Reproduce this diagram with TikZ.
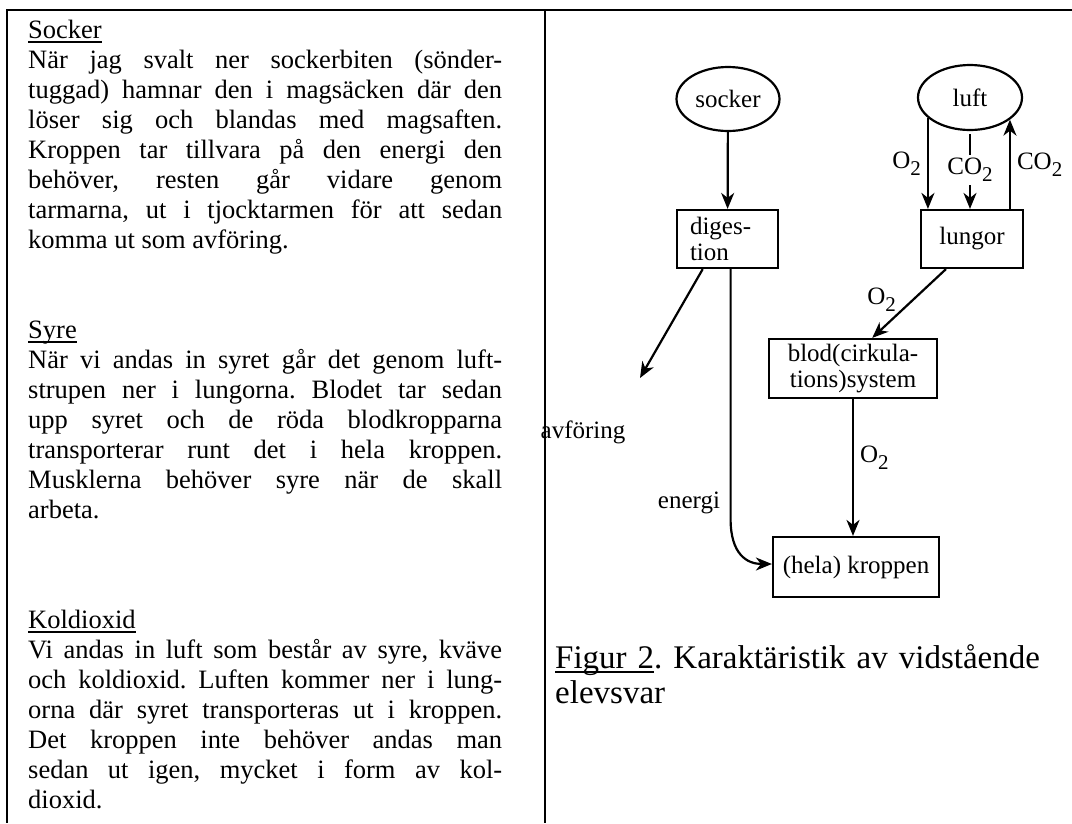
\documentclass[tikz,border=0pt]{standalone}
\usepackage{fontspec}
\setmainfont{Liberation Serif}
\usetikzlibrary{arrows.meta,shapes.geometric,calc}
\setlength{\parindent}{0pt}
\tolerance=10000
\hbadness=10000
\hyphenpenalty=10000
\frenchspacing
% chemical labels
\newcommand\Oxy{O\raisebox{-7pt}{\fontsize{21}{21}\selectfont 2}}
\newcommand\COxy{CO\raisebox{-7pt}{\fontsize{21}{21}\selectfont 2}}
% underline sitting just below the baseline
\newcommand\undl[1]{\leavevmode\setbox0=\hbox{#1}\rlap{\rule[-4.5pt]{\wd0}{1.6pt}}\box0}
\begin{document}
\begin{tikzpicture}[x=1pt,y=-1pt,
  txt/.style={inner sep=0pt, text width=474pt, align=justify, anchor=base west,
    font=\fontsize{26.5}{30}\selectfont},
  frame/.style={line width=2pt},
  box/.style={draw, line width=2.2pt, inner sep=0pt, font=\fontsize{25}{26}\selectfont},
  oval/.style={draw, ellipse, line width=2.2pt, inner sep=0pt, font=\fontsize{25}{26}\selectfont},
  lab/.style={inner sep=0pt, font=\fontsize{25}{26}\selectfont},
  arr/.style={line width=2.2pt, -{Stealth[length=16pt,width=13pt,inset=5pt]}}]
\useasboundingbox (0,0) rectangle (1072,823);

% table rules
\draw[frame] (1072,10) -- (7,10) -- (7,823);
\draw[frame] (545,10) -- (545,823);

% left column: student answer
\node[txt] (p1) at (28,38) {\undl{Socker}\newline
När jag svalt ner sockerbiten (sönder-\linebreak
tuggad) hamnar den i magsäcken där den\linebreak
löser sig och blandas med magsaften.\linebreak
Kroppen tar tillvara på den energi den\linebreak
behöver, resten går vidare genom\linebreak
tarmarna, ut i tjocktarmen för att sedan\linebreak
komma ut som avföring.};

\node[txt] (p2) at (28,338) {\undl{Syre}\newline
När vi andas in syret går det genom luft-\linebreak
strupen ner i lungorna. Blodet tar sedan\linebreak
upp syret och de röda blodkropparna\linebreak
transporterar runt det i hela kroppen.\linebreak
Musklerna behöver syre när de skall\linebreak
arbeta.};

\node[txt] (p3) at (28,628) {\undl{Koldioxid}\newline
Vi andas in luft som består av syre, kväve\linebreak
och koldioxid. Luften kommer ner i lung-\linebreak
orna där syret transporteras ut i kroppen.\linebreak
Det kroppen inte behöver andas man\linebreak
sedan ut igen, mycket i form av kol-\linebreak
dioxid.};

% right column: concept diagram
\node[oval, minimum width=103pt, minimum height=64pt] (socker) at (728,99) {socker};
\node[oval, minimum width=104pt, minimum height=65pt] (luft) at (970,97.5) {luft};
\node[box, minimum width=101pt, minimum height=58pt, text width=75pt, align=left] (dig) at (727.5,239) {diges-\\tion};
\node[box, minimum width=102pt, minimum height=58pt] (lungor) at (972,239) {lungor};
\node[box, minimum width=168pt, minimum height=59pt, align=center] (blod) at (853,368.5) {blod(cirkula-\\tions)system};
\node[box, minimum width=166pt, minimum height=60pt] (kropp) at (856,567) {(hela) kroppen};
\node[lab] (avf) at (583,432) {avföring};
\node[lab] (energi) at (689,503) {energi};
\coordinate (avfend) at (640,378);

\draw[arr] (socker) -- (dig);
\draw[arr] (luft.206) -- (luft.206 |- lungor.north)
  node[lab, midway, left=6pt] {\Oxy};
\draw[arr, shorten <=3pt] (luft.south) -- (luft.south |- lungor.north)
  node[lab, midway, fill=white, inner ysep=3pt] {\COxy};
\draw[arr] (luft.331 |- lungor.north) -- (luft.331)
  node[lab, midway, right=6pt] {\COxy};
\draw[arr] ($(lungor.south west)!0.25!(lungor.south east)$) --
  ($(blod.north west)!0.613!(blod.north east)$)
  node[lab, midway, anchor=east, xshift=-12pt, yshift=4pt] {\Oxy};
\draw[arr] (blod.south) -- (blod.south |- kropp.north)
  node[lab, midway, right=6pt, yshift=10pt] {\Oxy};
\draw[arr] ($(dig.south west)!0.26!(dig.south east)$) -- (avfend);
\draw[arr] ($(dig.south west)!0.53!(dig.south east)$) -- ++(0,250)
  .. controls +(0,35) and +(-25,0) .. ([yshift=3pt]kropp.west);

% caption
\node[anchor=base west, inner sep=0pt, text width=510pt, align=left,
  font=\fontsize{33}{35}\selectfont] (cap) at (555,668)
  {\undl{Figur 2}. Karaktäristik av vidstående\\elevsvar};
\end{tikzpicture}
\end{document}
